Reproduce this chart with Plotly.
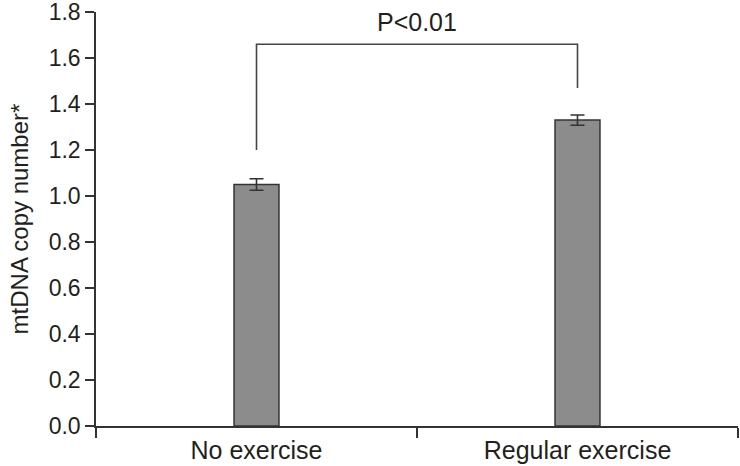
import plotly.graph_objects as go

categories = ["No exercise", "Regular exercise"]
means = [1.05, 1.33]
errors = [0.025, 0.022]
y_ticks = [0.0, 0.2, 0.4, 0.6, 0.8, 1.0, 1.2, 1.4, 1.6, 1.8]
bracket_y = [1.20, 1.66, 1.66, 1.47]
p_label = "P<0.01"
p_label_y = 1.757

FONT = "Liberation Sans, Arial, sans-serif"
TXT = "#231f20"
LINE = "#333333"

fig = go.Figure()
fig.add_trace(go.Bar(
    x=categories, y=means, width=0.14,
    marker=dict(color="#8c8c8c", line=dict(color=LINE, width=1.5)),
    error_y=dict(type="data", array=errors, visible=True, color=LINE, thickness=1.6, width=7),
    showlegend=False, hoverinfo="skip",
))
fig.add_trace(go.Scatter(
    x=[categories[0], categories[0], categories[1], categories[1]], y=bracket_y,
    mode="lines", line=dict(color="#444444", width=1.6), showlegend=False, hoverinfo="skip",
))
fig.add_annotation(x=0.5, y=p_label_y, xref="x", yref="y", text=p_label, showarrow=False,
                   font=dict(family=FONT, size=25, color=TXT), yanchor="middle")

fig.update_layout(
    width=740, height=466,
    margin=dict(l=96, r=2, t=12, b=40),
    paper_bgcolor="white", plot_bgcolor="white",
    font=dict(family=FONT, color=TXT),
    xaxis=dict(
        type="category", range=[-0.5, 1.5], showline=True, linecolor=LINE, linewidth=1.5,
        ticks="outside", tickson="boundaries", ticklen=10, tickwidth=1.5, tickcolor=LINE,
        tickfont=dict(size=25, color=TXT), showgrid=False, zeroline=False,
        automargin=False, ticklabelstandoff=1,
    ),
    yaxis=dict(
        range=[0, 1.8001], tickvals=y_ticks, tickformat=".1f", showline=True, linecolor=LINE,
        linewidth=1.5, ticks="outside", ticklen=9, tickwidth=1.5, tickcolor=LINE,
        tickfont=dict(size=23, color=TXT), showgrid=False, zeroline=False, automargin=False,
        ticklabeloverflow="allow",
        title=dict(text="mtDNA copy number*", font=dict(size=24, color=TXT), standoff=13),
    ),
)
fig.write_html("out.html", config={"displayModeBar": False},
               post_script="document.body.style.margin='0';")
